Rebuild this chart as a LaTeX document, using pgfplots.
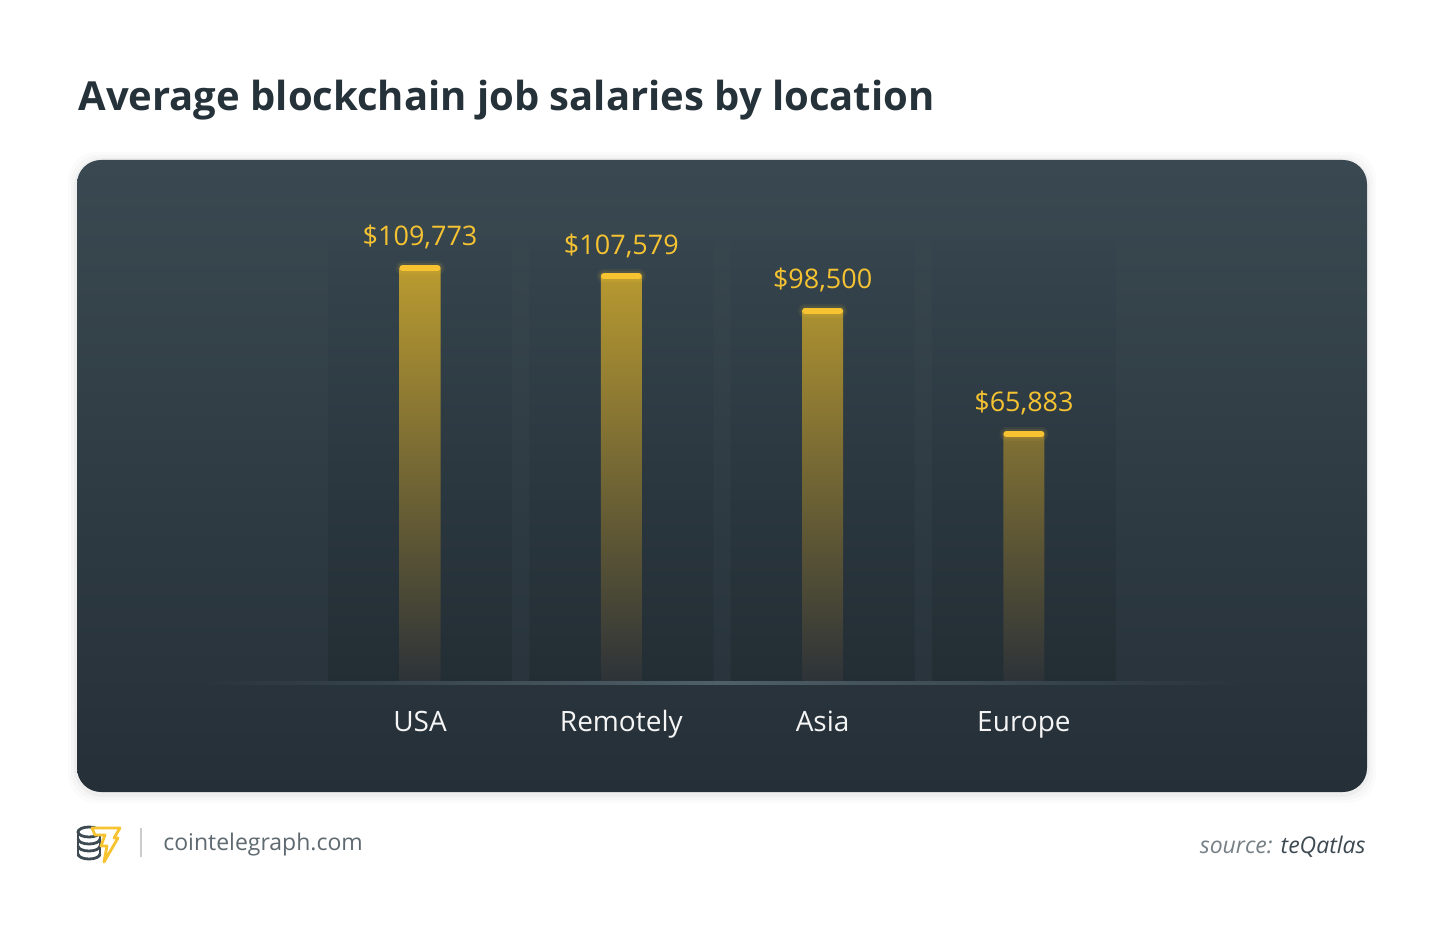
\documentclass[border=0pt]{standalone}
\usepackage{pgfplots}
\pgfplotsset{compat=1.18}
\usepackage{fontspec}
\setmainfont{Open Sans}
\definecolor{paneltop}{HTML}{3A4951}
\definecolor{panelbot}{HTML}{252F37}
\definecolor{panelline}{HTML}{29333B}
\definecolor{colbot}{HTML}{232D34}
\definecolor{coltop}{HTML}{35444D}
\definecolor{bartop}{HTML}{BA9B30}
\definecolor{barbot}{HTML}{2C3238}
\definecolor{capc}{HTML}{F8C331}
\definecolor{vallab}{HTML}{F5C232}
\definecolor{titlec}{HTML}{26323A}
\definecolor{footg}{HTML}{5E6970}
\definecolor{footd}{HTML}{3E4A52}
\definecolor{basel}{HTML}{4F6068}
\begin{document}
\begin{tikzpicture}[x=0.5pt,y=0.5pt]
% canvas
\fill[white] (0,0) rectangle (1450,938);
% title
\node[anchor=base west, inner sep=0, font=\fontsize{20}{24}\selectfont\bfseries, text=titlec] at (78,827) {Average blockchain job salaries by location};
% shadow
\foreach \i/\o in {9/0.015,6/0.02,3/0.03}{
  \fill[black,opacity=\o,rounded corners=14] (77-\i,146-\i-2) rectangle (1367+\i,778+\i-1);
}
% panel
\shade[top color=paneltop, bottom color=panelbot, rounded corners=12] (77,146) rectangle (1367,778);
\begin{axis}[at={(95pt,127.5pt)}, anchor=south west, scale only axis,
  width=530pt, height=261.5pt,
  xmin=-1.1426, xmax=4.123, ymin=0, ymax=138340,
  axis line style={draw=none}, tick style={draw=none}, ytick=\empty,
  xtick={0,1,2,3}, xticklabels={USA,Remotely,Asia,Europe},
  xticklabel style={anchor=base, yshift=-24pt, font=\fontsize{14}{16}\selectfont, text=white!92!gray},
  clip=false]
% background columns
\addplot[ybar, bar shift=0pt, bar width=92pt, draw=none, top color=coltop, bottom color=colbot]
  coordinates {(0,117000) (1,117000) (2,117000) (3,117000)};
% bars
\addplot[ybar, bar shift=0pt, bar width=20.5pt, draw=none, top color=bartop, bottom color=barbot,
  nodes near coords, point meta=explicit symbolic,
  nodes near coords style={anchor=base, yshift=11pt, font=\fontsize{13.5}{16}\selectfont, text=vallab}]
  coordinates {(0,109773) [\$109,773] (1,107579) [\$107,579] (2,98500) [\$98,500] (3,65883) [\$65,883]};
% glow
\addplot[only marks, mark=-, mark size=8.75pt, color=capc, mark options={line width=7pt, line cap=round, opacity=0.07}]
  coordinates {(0,109773) (1,107579) (2,98500) (3,65883)};
\addplot[only marks, mark=-, mark size=8.75pt, color=capc, mark options={line width=5pt, line cap=round, opacity=0.10}]
  coordinates {(0,109773) (1,107579) (2,98500) (3,65883)};
% caps
\addplot[only marks, mark=-, mark size=8.75pt, color=capc, mark options={line width=3pt, line cap=round}]
  coordinates {(0,109773) (1,107579) (2,98500) (3,65883)};
\end{axis}
% baseline
\shade[left color=panelline, right color=panelline, middle color=basel] (190,253.5) rectangle (1250,256.5);
% footer logo
\begin{scope}[line width=1.4, draw=footd]
  \draw[footd] (89,106) ellipse (11 and 5);
  \draw[footd] (78,106) -- (78,84);
  \draw[footd] (100,106) -- (100,84);
  \draw[footd] (78,99) arc (180:360:11 and 5);
  \draw[footd] (78,92) arc (180:360:11 and 5);
  \draw[footd] (78,84) arc (180:360:11 and 5);
\end{scope}
\filldraw[fill=white, draw=capc, line width=1.4, line join=round]
  (92,110) -- (120,110) -- (114,100) -- (118,100) -- (104,76) -- (107,92) -- (101,92) -- (105,103) -- (95,103) -- cycle;
% separator
\draw[gray!40, line width=1] (141,110) -- (141,81);
\node[anchor=base west, inner sep=0, font=\fontsize{11.5}{14}\selectfont, text=footg] at (163,88) {cointelegraph.com};
\node[anchor=base east, inner sep=0, font=\fontsize{11.5}{14}\selectfont\itshape] at (1366,85) {\textcolor{footg!85!white}{source:} \textcolor{footd}{teQatlas}};
\end{tikzpicture}
\end{document}
